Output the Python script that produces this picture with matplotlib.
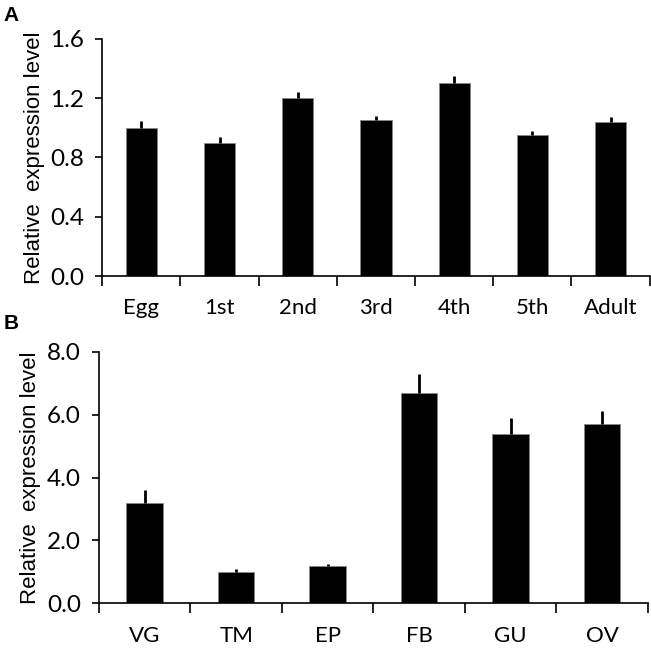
import numpy as np
import matplotlib
matplotlib.use("Agg")
import matplotlib.pyplot as plt
from matplotlib.ticker import FixedLocator, FixedFormatter

# Panel A: developmental stages
stages = ["Egg", "1st", "2nd", "3rd", "4th", "5th", "Adult"]
stage_vals = [1.00, 0.90, 1.20, 1.05, 1.30, 0.95, 1.04]
stage_err = [0.045, 0.04, 0.04, 0.03, 0.047, 0.027, 0.031]

# Panel B: tissues
tissues = ["VG", "TM", "EP", "FB", "GU", "OV"]
tissue_vals = [3.2, 1.0, 1.2, 6.7, 5.4, 5.7]
tissue_err = [0.4, 0.1, 0.04, 0.6, 0.5, 0.42]

tick_font = "Lato"
fig = plt.figure(figsize=(6.51, 6.48), dpi=100)
axA = fig.add_axes([0.157, 0.574, 0.841, 0.366])
axB = fig.add_axes([0.152, 0.069, 0.843, 0.388])


def draw(ax, names, vals, errs, yticks, fmt):
    x = np.arange(len(names))
    ax.bar(x, vals, width=0.4, color="black", edgecolor="#888888", linewidth=0.6, zorder=2)
    ax.errorbar(x, vals, yerr=[np.zeros(len(errs)), errs], fmt="none",
                ecolor="black", elinewidth=2, capsize=0, zorder=3)
    ax.set_xlim(-0.5, len(names) - 0.5)
    ax.set_ylim(yticks[0], yticks[-1])
    ax.set_yticks(yticks)
    ax.set_yticklabels([fmt % v for v in yticks], fontsize=17.5, family=tick_font)
    ax.xaxis.set_major_locator(FixedLocator(np.arange(len(names) + 1) - 0.5))
    ax.xaxis.set_major_formatter(FixedFormatter([""] * (len(names) + 1)))
    ax.xaxis.set_minor_locator(FixedLocator(x))
    ax.xaxis.set_minor_formatter(FixedFormatter(names))
    ax.tick_params(axis="x", which="major", direction="out", length=7, width=1.2)
    ax.tick_params(axis="x", which="minor", length=0, pad=16, labelsize=16)
    for lab in ax.get_xticklabels(minor=True):
        lab.set_family(tick_font)
    ax.tick_params(axis="y", direction="out", length=5, width=1.2, pad=8)
    ax.spines["top"].set_visible(False)
    ax.spines["right"].set_visible(False)
    ax.spines["left"].set_linewidth(1.2)
    ax.spines["bottom"].set_linewidth(1.2)
    ax.set_ylabel("Relative  expression level", fontsize=16, family="Liberation Sans", labelpad=4)


draw(axA, stages, stage_vals, stage_err, [0.0, 0.4, 0.8, 1.2, 1.6], "%.1f")
draw(axB, tissues, tissue_vals, tissue_err, [0.0, 2.0, 4.0, 6.0, 8.0], "%.1f")

fig.text(0.005, 0.99, "A", fontsize=15, fontweight="bold", family="Liberation Sans", va="top")
fig.text(0.005, 0.515, "B", fontsize=15, fontweight="bold", family="Liberation Sans", va="top")

fig.savefig("out.png", dpi=100)
